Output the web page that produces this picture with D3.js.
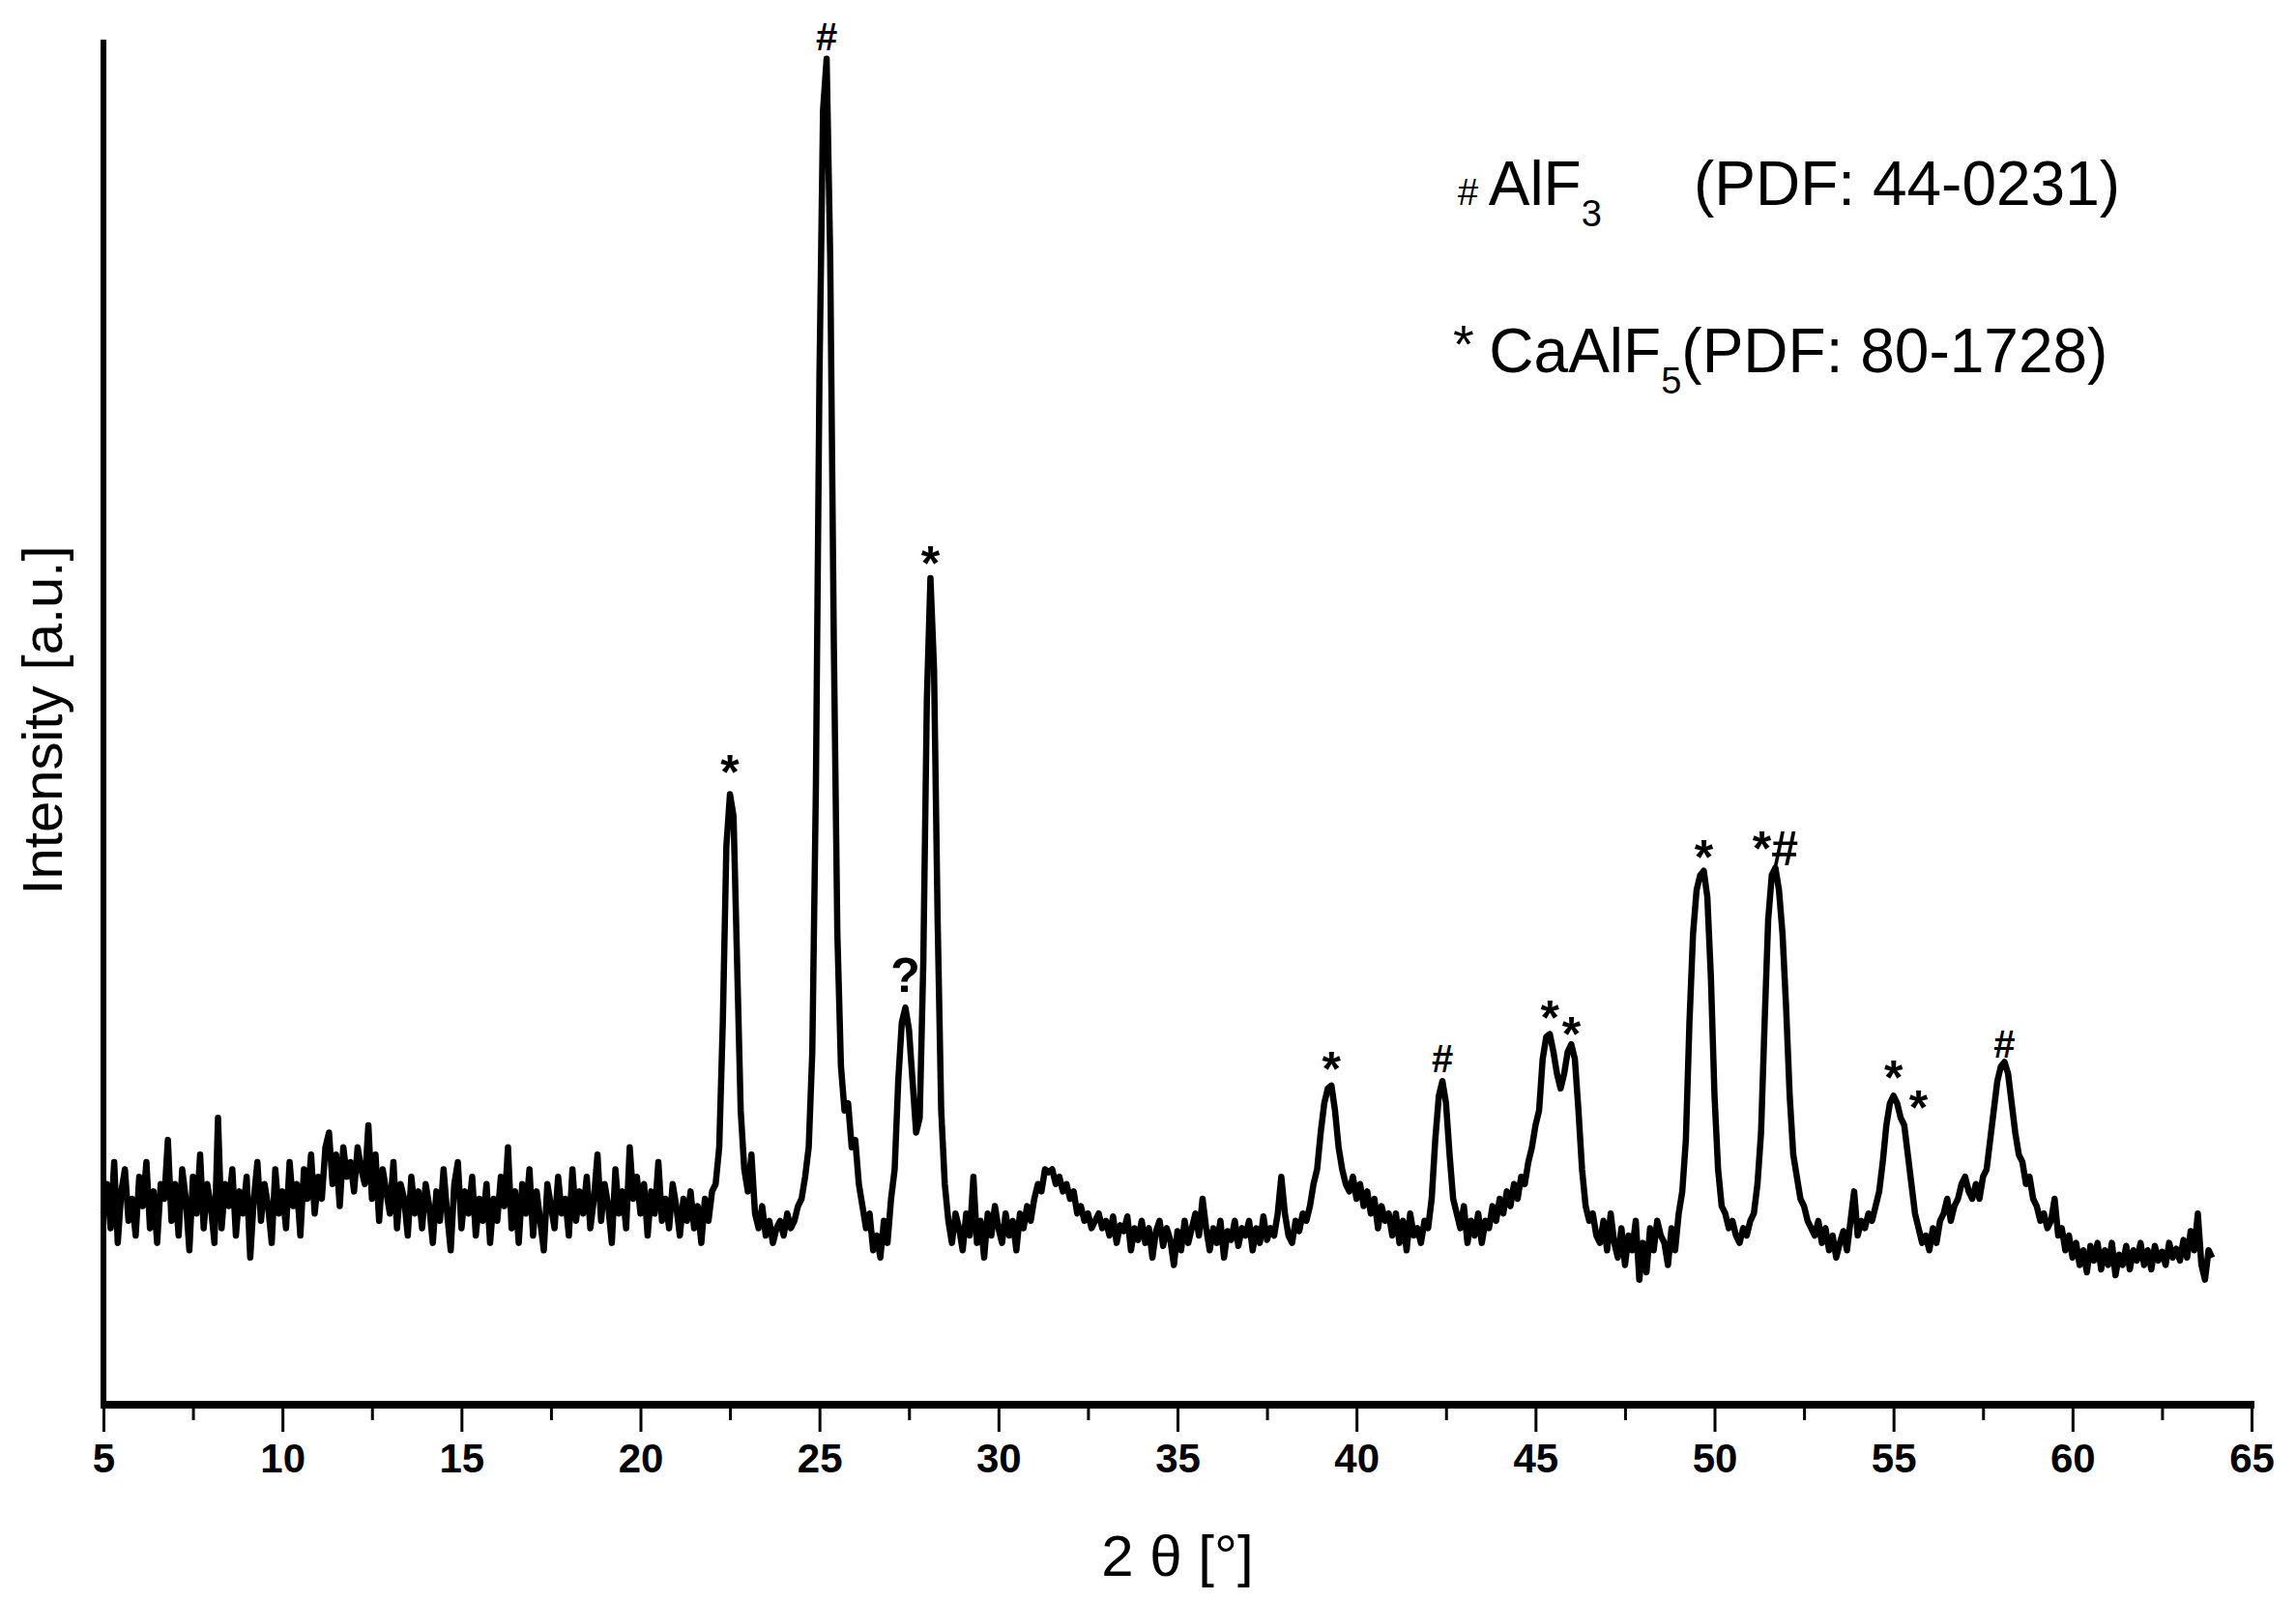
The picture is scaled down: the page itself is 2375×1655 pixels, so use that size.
<!DOCTYPE html>
<html>
<head>
<meta charset="utf-8">
<script src="https://cdn.jsdelivr.net/npm/d3@7"></script>
<style>
  body { margin: 0; background: #fff; }
  text { font-family: "Liberation Sans", Arial, sans-serif; }
</style>
</head>
<body>
<div id="chart"></div>
<script>
// XRD pattern, sampled every 0.1 deg from 5.0 to 63.9 (2 theta)
var startAngle = 5.0, stepAngle = 0.1;
var intensity = [
130,150,120,165,110,145,160,125,140,115,
155,135,165,120,145,110,150,140,180,125,
150,115,160,140,105,155,130,170,120,150,
135,110,195,120,150,135,160,115,145,130,
155,100,140,165,125,150,135,110,160,130,
145,120,165,135,150,115,160,140,170,130,
155,140,175,185,150,170,135,175,155,165,
145,175,160,150,190,140,170,125,160,145,
130,165,120,150,140,115,155,130,145,120,
150,135,110,145,125,160,130,105,150,165,
120,145,130,155,115,140,125,150,110,140,
125,155,135,175,120,145,110,150,130,160,
115,145,125,105,150,135,120,155,130,140,
115,160,125,145,130,155,120,140,170,125,
150,135,110,160,130,145,120,175,140,155,
130,150,115,145,130,165,125,140,120,150,
135,115,140,125,145,120,135,110,140,125,
145,150,175,260,380,415,400,300,200,160,
145,170,130,120,135,115,125,110,120,125,
115,130,120,125,135,140,155,175,240,420,
700,880,915,780,520,320,230,200,205,175,
180,150,135,120,130,105,115,100,125,110,
140,160,220,260,270,255,220,185,195,300,
480,562,500,330,200,150,125,110,130,120,
105,130,115,155,110,125,100,130,115,135,
120,110,130,115,125,105,130,120,135,125,
140,150,145,160,158,160,150,155,145,150,
140,145,130,135,125,130,120,125,130,120,
125,115,128,110,122,118,128,105,120,112,
125,110,120,100,118,125,108,120,112,95,
118,105,125,110,120,130,115,140,120,105,
120,110,125,100,118,112,125,108,120,115,
125,105,120,110,128,112,120,115,130,155,
130,115,110,125,118,130,125,135,150,160,
185,205,215,217,200,175,160,150,145,155,
140,150,135,145,130,140,120,135,125,130,
115,130,110,125,105,130,115,120,110,125,
120,140,180,210,220,205,170,140,130,120,
135,110,125,115,130,110,125,120,135,125,
140,130,145,135,150,140,155,150,165,175,
190,200,235,250,252,240,225,215,225,240,
245,235,200,160,135,125,130,115,110,125,
105,130,110,100,120,95,115,105,125,85,
110,90,120,105,125,115,110,95,120,105,
130,145,180,260,320,350,360,363,345,290,
210,160,135,130,120,125,115,110,120,115,
125,130,150,185,260,330,360,365,350,320,
270,210,170,155,140,135,125,120,115,125,
110,120,105,115,100,110,118,105,125,145,
115,125,120,130,125,135,145,165,190,205,
210,205,195,190,170,150,130,120,110,115,
105,120,110,125,130,140,125,135,140,150,
155,145,140,150,140,155,160,180,200,220,
230,233,225,205,185,170,165,150,155,140,
135,125,130,120,125,140,115,120,105,115,
100,110,95,105,90,108,98,110,92,105,
95,110,88,102,95,108,92,105,98,110,
95,105,92,108,98,104,95,110,100,106,
98,112,100,118,105,130,95,85,105,100
];

// peak markers
var markAngle = [25.2, 22.5, 27.4, 28.1, 39.3, 42.4, 45.4, 46.0, 49.7, 51.7, 55.0, 55.7, 58.1];
var markLevel = [930, 430, 292, 572, 228, 235, 263, 252, 372, 378, 222, 202, 245];
var markText  = ["#", "*", "?", "*", "*", "#", "*", "*", "*", "*#", "*", "*", "#"];

var xTicks = [5, 10, 15, 20, 25, 30, 35, 40, 45, 50, 55, 60, 65];

var width = 2375, height = 1655;
var margin = { top: 41, right: 46, bottom: 202, left: 107 };

var svg = d3.select("#chart").append("svg")
  .attr("width", width)
  .attr("height", height);

var x = d3.scaleLinear().domain([5, 65]).range([margin.left, 2329]);
var y = d3.scaleLinear().domain([0, 928]).range([height - margin.bottom, margin.top]);

var points = intensity.map(function(v, i) {
  return [startAngle + i * stepAngle, v];
});

// x axis ticks (major + minor, below the axis)
var xAxis = d3.axisBottom(x).tickValues(xTicks).tickSize(28).tickPadding(12).tickFormat(d3.format("d"));
var gx = svg.append("g")
  .attr("transform", "translate(0," + (height - margin.bottom) + ")")
  .call(xAxis);
gx.select(".domain").remove();
gx.selectAll(".tick line").attr("stroke-width", 3);
gx.selectAll(".tick text")
  .attr("font-size", 42).attr("font-weight", "bold")
  .attr("fill", "#000");

svg.append("g")
  .attr("transform", "translate(0," + (height - margin.bottom) + ")")
  .call(d3.axisBottom(x).tickValues(d3.range(7.5, 65, 5)).tickSize(16).tickFormat(""))
  .call(function(g) { g.select(".domain").remove(); })
  .selectAll(".tick line").attr("stroke-width", 3);

// axis lines
svg.append("line")
  .attr("x1", x(5) - 3).attr("x2", x(65) + 3)
  .attr("y1", y(0)).attr("y2", y(0))
  .attr("stroke", "#000").attr("stroke-width", 8);
svg.append("line")
  .attr("x1", x(5)).attr("x2", x(5))
  .attr("y1", y(0)).attr("y2", y(928))
  .attr("stroke", "#000").attr("stroke-width", 6);

// pattern
svg.append("path")
  .datum(points)
  .attr("fill", "none")
  .attr("stroke", "#000")
  .attr("stroke-width", 6.5)
  .attr("stroke-linejoin", "round")
  .attr("d", d3.line().x(function(d) { return x(d[0]); }).y(function(d) { return y(d[1]); }));

// peak markers
svg.append("g").selectAll("text")
  .data(markText)
  .enter().append("text")
  .attr("x", function(d, i) { return x(markAngle[i]); })
  .attr("y", function(d, i) { return y(markLevel[i]); })
  .attr("text-anchor", "middle")
  .attr("dominant-baseline", "central")
  .attr("font-weight", "bold")
  .attr("font-size", function(d) { return d == "#" ? 40 : 50; })
  .text(function(d) { return d; });

// legend
var leg1 = svg.append("text").attr("x", 1508).attr("y", 212).attr("font-size", 64);
leg1.append("tspan").attr("font-size", 38).text("# ");
leg1.append("tspan").text("AlF");
leg1.append("tspan").attr("font-size", 38).attr("dy", 22).text("3");
leg1.append("tspan").attr("dy", -22).attr("x", 1752).text("(PDF: 44-0231)");

var leg2 = svg.append("text").attr("x", 1503).attr("y", 385).attr("font-size", 64);
leg2.append("tspan").attr("font-size", 56).attr("dy", -10).text("* ");
leg2.append("tspan").attr("dy", 10).text("CaAlF");
leg2.append("tspan").attr("font-size", 38).attr("dy", 22).text("5");
leg2.append("tspan").attr("dy", -22).text("(PDF: 80-1728)");

// axis titles
svg.append("text")
  .attr("x", (x(5) + x(65)) / 2).attr("y", 1630)
  .attr("text-anchor", "middle").attr("font-size", 60)
  .text("2 θ [°]");

svg.append("text")
  .attr("transform", "translate(64,745) rotate(-90)")
  .attr("text-anchor", "middle").attr("font-size", 58)
  .text("Intensity [a.u.]");
</script>
</body>
</html>
